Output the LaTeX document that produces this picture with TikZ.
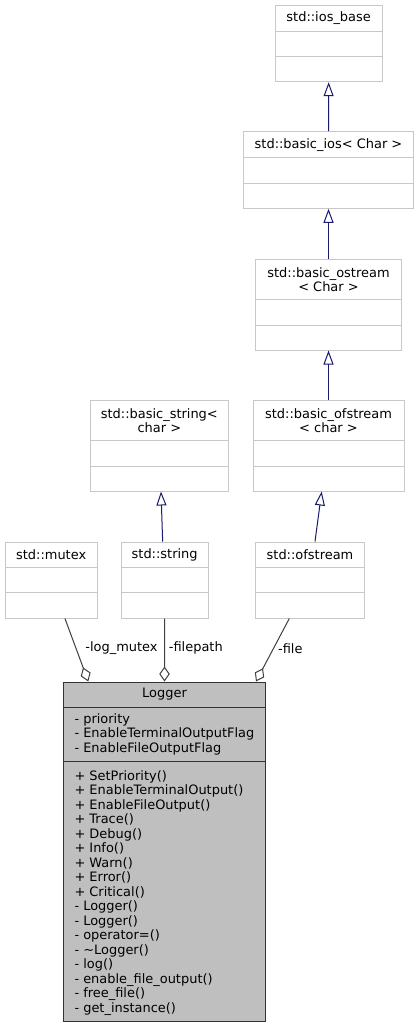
\documentclass[tikz,border=0pt]{standalone}
\usepackage{fontspec}
\setmainfont{DejaVu Sans}
\usetikzlibrary{arrows.meta}
\definecolor{boxgray}{HTML}{BFBFBF}
\definecolor{boxline}{HTML}{C8C8C8}
\definecolor{inhblue}{HTML}{191970}
\definecolor{compgray}{HTML}{404040}
\tikzset{
  classbox/.style={draw=boxline, line width=1pt, inner sep=0pt},
  divline/.style={draw=boxline, line width=1pt},
  loggerbox/.style={draw=black!80, fill=boxgray, line width=1pt, inner sep=0pt},
  loggerdiv/.style={draw=black!80, line width=1pt},
  titletext/.style={font=\fontsize{12.95}{14.2}\selectfont, align=center, inner sep=0pt},
  membertext/.style={font=\fontsize{12.95}{14.5}\selectfont, align=left, inner sep=0pt, anchor=west},
  edgelabel/.style={font=\fontsize{12.95}{14}\selectfont, inner sep=0pt},
  inherit/.style={draw=inhblue, line width=1pt, -{Triangle[open, length=14pt, width=10pt]}},
  compose/.style={draw=compgray, line width=1pt, -{Diamond[open, length=15pt, width=10.5pt]}}
}
\newcommand\umlclass[8]{%
  \node[classbox, minimum width={(#4-#2)*1pt}, minimum height={(#5-#3)*1pt}] (#1) at ({(#2+#4)/2},{(#3+#5)/2}) {};
  \draw[divline] (#2,#6) -- (#4,#6) (#2,#7) -- (#4,#7);
  \node[titletext] (#1-t) at ({(#2+#4)/2},{(#3+#6)/2}) {#8};
}
\begin{document}
\begin{tikzpicture}[x=1pt,y=-1pt]
\useasboundingbox[fill=white] (0,0) rectangle (419,1028);

\umlclass{iosbase}{275}{5.3}{382.3}{81.7}{31.7}{56.7}{std::ios\_base}
\umlclass{basicios}{243.3}{131.7}{413.7}{208.3}{157.7}{183}{std::basic\_ios< Char >}
\umlclass{basicostream}{255.7}{259.3}{401.3}{350}{299.7}{325}{std::basic\_ostream\\< Char >}
\umlclass{basicstring}{90}{400.3}{228.7}{491}{440.7}{466}{std::basic\_string<\\char >}
\umlclass{basicofstream}{253}{400.3}{404}{491}{440.7}{466}{std::basic\_ofstream\\< char >}
\umlclass{mutex}{5}{542}{97.3}{618}{567.3}{592.7}{std::mutex}
\umlclass{string}{121.3}{542}{208}{618}{567.3}{592.7}{std::string}
\umlclass{ofstream}{255.3}{542}{364.7}{618}{567.3}{592.7}{std::ofstream}

% Logger
\node[loggerbox, minimum width=202.4pt, minimum height=339.7pt] (logger) at (164.5,851.85) {};
\draw[loggerdiv] (63.3,707.3) -- (265.7,707.3) (63.3,761.7) -- (265.7,761.7);
\node[titletext] (logger-t) at (164.5,694.6) {Logger};
\node[membertext] (logger-attr) at (74.3,734.3) {- priority\\- EnableTerminalOutputFlag\\- EnableFileOutputFlag};
\node[membertext] (logger-meth) at (74.3,892.6) {+ SetPriority()\\+ EnableTerminalOutput()\\+ EnableFileOutput()\\+ Trace()\\+ Debug()\\+ Info()\\+ Warn()\\+ Error()\\+ Critical()\\- Logger()\\- Logger()\\- operator=()\\- \textasciitilde Logger()\\- log()\\- enable\_file\_output()\\- free\_file()\\- get\_instance()};

% inheritance
\draw[inherit] (basicios.north) -- (iosbase.south);
\draw[inherit] (basicostream.north) -- (basicios.south);
\draw[inherit] (basicofstream.north) -- (basicostream.south);
\draw[inherit] ([xshift=-2pt]string.north) -- ([xshift=1.65pt]basicstring.south);
\draw[inherit] ([xshift=5pt]ofstream.north) -- ([xshift=-6.8pt]basicofstream.south);

% composition
\draw[compose] ([xshift=13.8pt]mutex.south) -- ([xshift=-76.2pt]logger.north);
\draw[compose] (string.south) -- (logger.north);
\draw[compose] ([xshift=-20.7pt]ofstream.south) -- ([xshift=91.5pt]logger.north);

\node[edgelabel] (lbl-mutex) at (121.5,648.3) {-log\_mutex};
\node[edgelabel] (lbl-filepath) at (195.8,648.3) {-filepath};
\node[edgelabel] (lbl-file) at (290.3,648.3) {-file};
\end{tikzpicture}
\end{document}
